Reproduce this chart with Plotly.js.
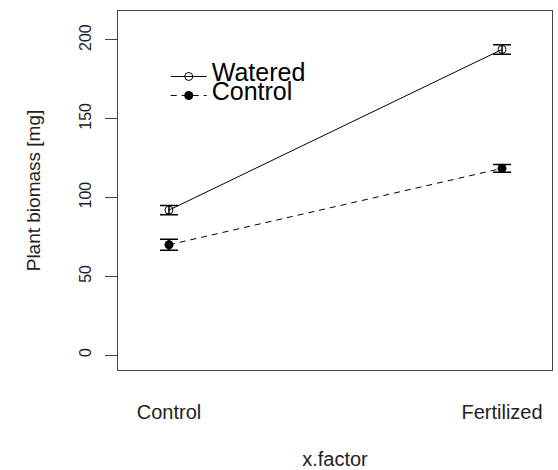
<!DOCTYPE html>
<html>
<head>
<meta charset="utf-8">
<script src="https://cdn.plot.ly/plotly-3.0.1.min.js"></script>
<style>html,body{margin:0;padding:0;background:#fff;}#chart{width:558px;height:470px;}</style>
</head>
<body>
<div id="chart"></div>
<script>
// Data
const categories = ["Control", "Fertilized"];
const wateredMean = [92, 194];
const wateredErr = [3, 3];
const controlMean = [70, 118.5];
const controlErr = [3.5, 2.5];
const seriesNames = ["Watered", "Control"];
const yTicks = [0, 50, 100, 150, 200];

const FONT = "Liberation Sans, Arial, sans-serif";

const traces = [
  {
    type: "scatter", mode: "lines+markers",
    x: categories, y: wateredMean, name: '<span style="font-size:25px">' + seriesNames[0] + '</span>',
    line: {color: "#000", width: 1, dash: "solid"},
    marker: {symbol: "circle-open", size: 8, color: "#000", line: {width: 1, color: "#000"}},
    error_y: {type: "data", array: wateredErr, visible: true, color: "#000", thickness: 1.5, width: 9}
  },
  {
    type: "scatter", mode: "lines+markers",
    x: categories, y: controlMean, name: '<span style="font-size:25px">' + seriesNames[1] + '</span>',
    line: {color: "#000", width: 1, dash: "6px,5px"},
    marker: {symbol: "circle", size: 9, color: "#000"},
    error_y: {type: "data", array: controlErr, visible: true, color: "#000", thickness: 1.5, width: 9}
  }
];

const layout = {
  width: 558, height: 470,
  margin: {l: 118, r: 6, t: 11, b: 100, pad: 0},
  paper_bgcolor: "#fff", plot_bgcolor: "#fff",
  font: {family: FONT, color: "#222"},
  showlegend: true,
  legend: {
    x: 0.110, y: 0.858, xanchor: "left", yanchor: "top",
    bgcolor: "rgba(0,0,0,0)", borderwidth: 0,
    font: {family: FONT, size: 12, color: "#000"},
    itemwidth: 36, tracegroupgap: 0
  },
  xaxis: {
    type: "category", range: [-0.153, 1.15],
    showgrid: false, zeroline: false,
    showline: true, mirror: true, linecolor: "#444", linewidth: 1,
    ticks: "", ticklabelstandoff: 24,
    tickfont: {family: FONT, size: 20, color: "#222"},
    title: {text: "x.factor", font: {family: FONT, size: 20, color: "#222"}, standoff: 30},
    fixedrange: true
  },
  yaxis: {
    range: [-9.5, 218.4],
    tickvals: yTicks, ticktext: yTicks.map(String),
    showgrid: false, zeroline: false,
    showline: true, mirror: true, linecolor: "#444", linewidth: 1,
    ticks: "outside", ticklen: 12, tickcolor: "#444", tickwidth: 1,
    tickangle: -90, ticklabelstandoff: 8,
    tickfont: {family: FONT, size: 16, color: "#222"},
    title: {text: "Plant biomass [mg]", font: {family: FONT, size: 19, color: "#222"}, standoff: 30},
    fixedrange: true
  }
};

Plotly.newPlot("chart", traces, layout, {staticPlot: true, displayModeBar: false});
</script>
</body>
</html>
